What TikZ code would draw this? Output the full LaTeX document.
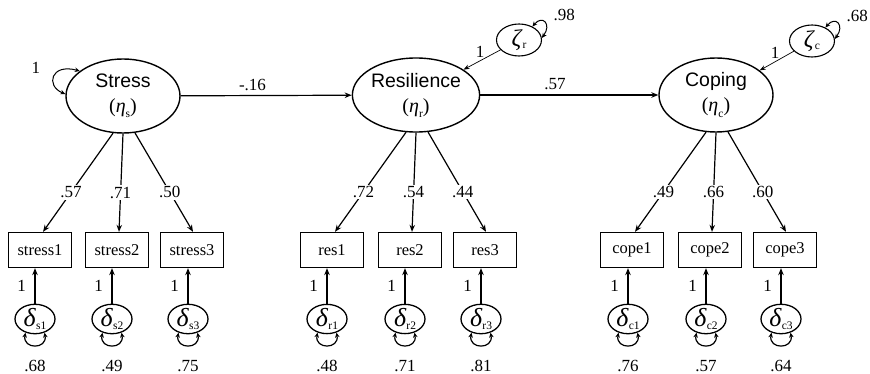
\documentclass[tikz,border=0pt]{standalone}
\usepackage{fontspec}
\setmainfont{Liberation Serif}
\setsansfont{Liberation Sans}
\usetikzlibrary{shapes.geometric,arrows.meta}
% lowered small subscript for Greek symbols
\newcommand{\lowsub}[1]{\raisebox{-0.55ex}{\fontsize{11.5}{11.5}\selectfont #1}}
\begin{document}
\begin{tikzpicture}[x=1pt,y=-1pt,
  latent/.style={draw, ellipse, line width=1.4pt, minimum width=114pt, minimum height=74pt,
    inner sep=0pt, align=center, font=\fontsize{19.5}{25}\selectfont},
  indic/.style={draw, rectangle, line width=1.3pt, minimum width=63pt, minimum height=35pt,
    inner sep=0pt, font=\fontsize{16.5}{16.5}\selectfont},
  errc/.style={draw, ellipse, line width=1.3pt, minimum width=40pt, minimum height=28pt, inner sep=0pt},
  distc/.style={draw, ellipse, line width=1.1pt, minimum width=45pt, minimum height=32pt, inner sep=0pt},
  arr/.style={-{Stealth[length=7pt,width=5.5pt]}, line width=1.2pt},
  thinarr/.style={-{Stealth[length=6pt,width=4.5pt]}, line width=0.7pt},
  varloop/.style={{Stealth[length=5pt,width=4.5pt]}-{Stealth[length=5pt,width=4.5pt]}, line width=1.2pt},
  lab/.style={font=\fontsize{17}{17}\selectfont, inner sep=1.5pt},
  cut/.style={lab, fill=white},
  greek/.style={font=\fontsize{20}{25}\selectfont},
]
\useasboundingbox (0,0) rectangle (870,374);

% latent variables
\node[latent] (stress) at (123,96) {{\sffamily Stress}\\{\fontsize{20}{25}\selectfont (\textit{η}\lowsub{s})}};
\node[latent] (res) at (416,95) {{\sffamily Resilience}\\{\fontsize{20}{25}\selectfont (\textit{η}\lowsub{r})}};
\node[latent] (cope) at (716,95) {{\sffamily Coping}\\{\fontsize{20}{25}\selectfont (\textit{η}\lowsub{c})}};

% disturbances
\node[distc] (zr) at (519,40) {{\fontsize{24}{24}\selectfont\textit{ζ}}\lowsub{r}};
\node[distc] (zc) at (812,41) {{\fontsize{24}{24}\selectfont\textit{ζ}}\lowsub{c}};

% indicators
\foreach \n/\t/\x in {s1/stress1/40, s2/stress2/117, s3/stress3/192,
                      r1/res1/332, r2/res2/410, r3/res3/485,
                      c1/cope1/632, c2/cope2/710, c3/cope3/785}
  \node[indic] (\n) at (\x,250) {\t};

% measurement errors
\foreach \n/\s/\x/\v in {s1/s1/35/.68, s2/s2/112/.49, s3/s3/188/.75,
                         r1/r1/327/.48, r2/r2/405/.71, r3/r3/481/.81,
                         c1/c1/628/.76, c2/c2/706/.57, c3/c3/781/.64} {
  \node[errc] (d\n) at (\x,319) {{\fontsize{26}{26}\selectfont\textit{δ}}\lowsub{\s}};
  \draw[arr] (d\n) -- node[lab, left=7pt]{1} (d\n |- \n.south);
  \draw[varloop] (d\n.235) .. controls +(-3,17) and +(3,17) .. node[lab, below=13pt]{\v} (d\n.305);
}

% structural paths
\draw[arr] (stress) -- node[lab, pos=0.42, above=3pt]{-.16} (res);
\draw[arr] (res) -- node[lab, pos=0.42, above=3pt]{.57} (cope);
\draw[thinarr] (zr) -- node[lab, pos=0.55, above=1pt]{1} (res);
\draw[thinarr] (zc) -- node[lab, pos=0.55, above=1pt]{1} (cope);

% variances of latent variables
\draw[varloop, line width=1pt] (stress.178) .. controls +(-20,-8) and +(-29,-8) .. node[lab, pos=0.55, left=13pt, yshift=7pt]{1} (stress.150);
\draw[varloop, line width=1pt] (zr.45) .. controls +(10,-12) and +(10,-14) .. node[lab, pos=0.5, right=7pt, yshift=8pt]{.98} (zr.5);
\draw[varloop, line width=1pt] (zc.45) .. controls +(10,-12) and +(10,-14) .. node[lab, pos=0.5, right=7pt, yshift=8pt]{.68} (zc.5);

% factor loadings
\foreach \lv/\a/\b/\c/\la/\lb/\lc in {stress/s1/s2/s3/.57/.71/.50,
                                      res/r1/r2/r3/.72/.54/.44,
                                      cope/c1/c2/c3/.49/.66/.60} {
  \draw[arr] (\lv.255) -- node[cut, pos=0.6]{\la} ([xshift=3pt]\a.north);
  \draw[arr] (\lv.270) -- node[cut, pos=0.6]{\lb} ([xshift=2pt]\b.north);
  \draw[arr] (\lv.288) -- node[cut, pos=0.6]{\lc} ([xshift=1pt]\c.north);
}
\end{tikzpicture}
\end{document}
